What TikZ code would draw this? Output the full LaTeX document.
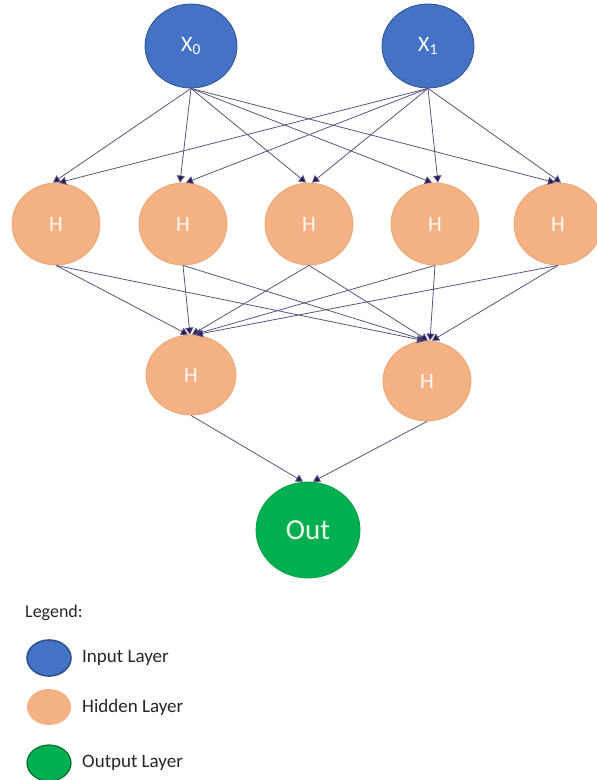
\documentclass[tikz,border=0pt]{standalone}
\usepackage{fontspec}
\setmainfont{Carlito}
\usetikzlibrary{shapes.geometric,arrows.meta,calc}

\definecolor{inblue}{HTML}{4472C4}
\definecolor{inborder}{HTML}{2F528F}
\definecolor{hidorange}{HTML}{F4B183}
\definecolor{hidborder}{HTML}{EBA676}
\definecolor{outgreen}{HTML}{00B050}
\definecolor{outborder}{HTML}{00A048}
\definecolor{wire}{HTML}{55557F}
\definecolor{tipcol}{HTML}{2A1658}
\definecolor{legtext}{HTML}{262626}

\tikzset{
  neuron/.style={ellipse, line width=0.8pt, inner sep=0pt, text=white},
  inputnode/.style={neuron, fill=inblue, draw=inborder, minimum width=92pt, minimum height=84pt, font=\fontsize{22}{24}\selectfont},
  hiddennode/.style={neuron, fill=hidorange, draw=hidborder, minimum width=88pt, minimum height=82pt, text=white!92!hidorange, font=\fontsize{22}{24}\selectfont},
  outputnode/.style={neuron, fill=outgreen, draw=outborder, minimum width=104pt, minimum height=96pt, text=green!8!white, font=\fontsize{29}{31}\selectfont},
  legendmark/.style={ellipse, inner sep=0pt, minimum width=44pt, minimum height=36pt},
  legendlabel/.style={anchor=west, text=legtext, inner sep=0pt, font=\fontsize{19}{21}\selectfont},
  wireline/.style={draw=wire, line width=0.8pt, -{Triangle[length=7pt,width=8pt,fill=tipcol]}}
}

\begin{document}
\begin{tikzpicture}[x=1pt,y=-1pt]
\useasboundingbox (0,0) rectangle (597,780);

% input layer
\node[inputnode] (x0) at (191,46) {X\textsubscript{0}};
\node[inputnode] (x1) at (428,46) {X\textsubscript{1}};

% first hidden layer
\foreach \i/\xx in {1/56,2/183,3/309,4/435,5/558}
  \node[hiddennode] (h\i) at (\xx,224) {H};

% second hidden layer
\node[hiddennode, minimum width=90pt, minimum height=80pt] (ha) at (191,375) {H};
\node[hiddennode, minimum width=88pt, minimum height=80pt] (hb) at (427,381) {H};

% output
\node[outputnode] (out) at (308,530) {Out};

% input -> first hidden
\foreach \i in {1,...,5} {
  \draw[wireline] (x0.south) -- ($(h\i.north)+(-3,0)$);
  \draw[wireline] (x1.south) -- ($(h\i.north)+(3,0)$);
}

% first hidden -> second hidden
\foreach \i in {1,...,5} {
  \draw[wireline] (h\i.south) -- ($(ha.north)+(\i*2-5,0)$);
  \draw[wireline] (h\i.south) -- ($(hb.north)+(\i*2-5,0)$);
}

% second hidden -> output
\draw[wireline] (ha.south) -- ($(out.north)+(-5,0)$);
\draw[wireline] (hb.south) -- ($(out.north)+(5,0)$);

% legend
\node[anchor=west, text=legtext, inner sep=0pt, font=\fontsize{18}{20}\selectfont] (legtitle) at (25,613) {Legend:};
\node[legendmark, fill=inblue, draw=inborder, line width=1.6pt] (lin) at (49,658) {};
\node[legendlabel] (linl) at (82,658) {Input Layer};
\node[legendmark, fill=hidorange] (lhid) at (49,707) {};
\node[legendlabel] (lhidl) at (82,707) {Hidden Layer};
\node[legendmark, fill=outgreen, draw=outborder!70!black, line width=1.2pt] (lout) at (49,763) {};
\node[legendlabel] (loutl) at (82,763) {Output Layer};
\end{tikzpicture}
\end{document}
